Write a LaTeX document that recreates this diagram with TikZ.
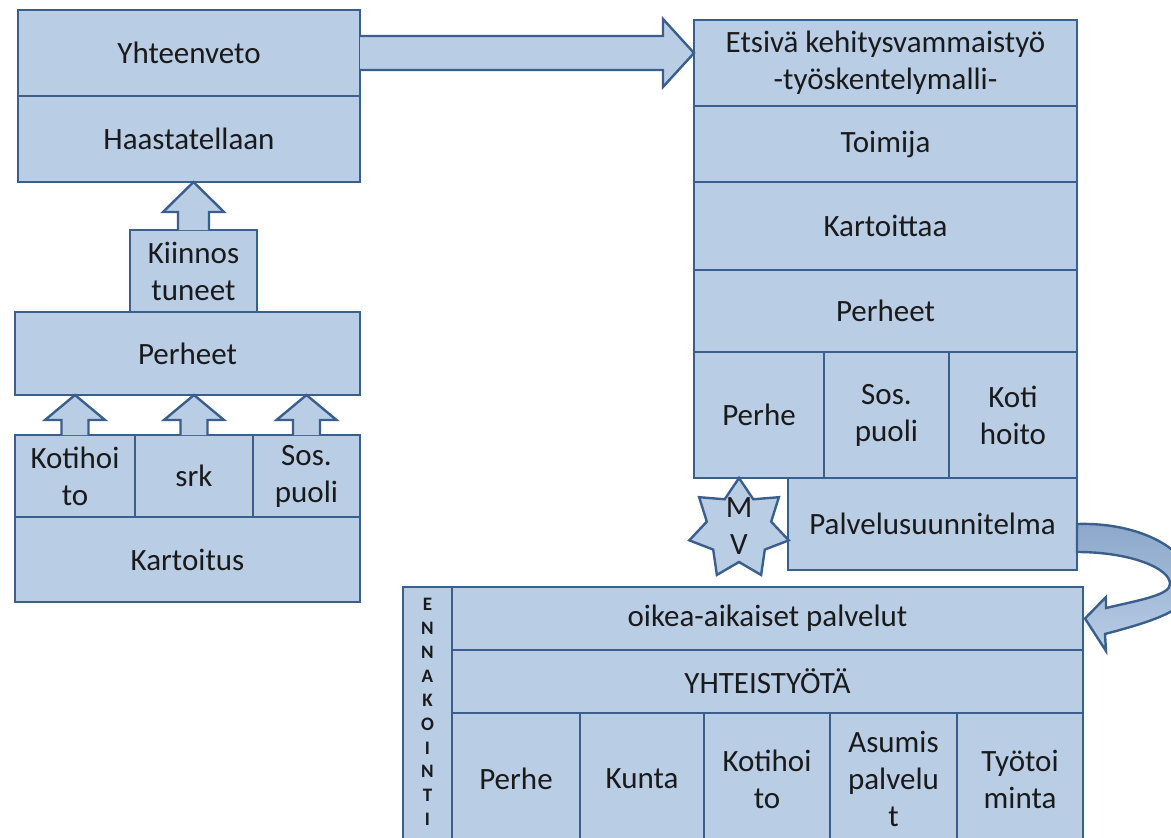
\documentclass[tikz,border=0pt]{standalone}
\usepackage{fontspec}
\setmainfont{Carlito}
\usetikzlibrary{calc}
\definecolor{boxfill}{HTML}{B9CDE5}
\definecolor{boxline}{HTML}{3B5F8C}
\definecolor{txt}{HTML}{1A1A1A}
\definecolor{arrdark}{HTML}{8CA7CA}
\tikzset{
  cell/.style={draw=boxline, fill=boxfill, line width=2.4pt, text=txt, align=center,
    inner sep=0pt, outer sep=0pt, font=\fontsize{31}{37}\selectfont},
  lbl/.style={text=txt, align=center, inner sep=0pt, font=\fontsize{31}{37}\selectfont},
  arrowblk/.style={draw=boxline, fill=boxfill, line width=2.4pt, line join=miter},
  curvarr/.style={draw=boxline, line width=2.4pt, line join=miter, top color=arrdark, bottom color=boxfill}
}
\newcommand\mkcell[6]{%
  \pgfmathsetmacro\mycw{#4-#2}%
  \pgfmathsetmacro\mych{#5-#3}%
  \node[cell, minimum width=\mycw pt, minimum height=\mych pt] (#1) at ({(#2+#4)/2},{(#3+#5)/2}) {#6};}
% up block arrow: from node #1 (north) to node #2 (south); shaft half #3, wing half #4, head length #5
\newcommand\uparr[5]{%
  \coordinate (#1tip) at (#1.north |- #2.south);
  \draw[arrowblk] ($(#1.north)+(-#3,0)$) -- ($(#1tip)+(-#3,#5)$) -- ($(#1tip)+(-#4,#5)$) -- (#1tip)
    -- ($(#1tip)+(#4,#5)$) -- ($(#1tip)+(#3,#5)$) -- ($(#1.north)+(#3,0)$);}
\begin{document}
\begin{tikzpicture}[x=1pt, y=-1pt]
\useasboundingbox (0,0) rectangle (1171,838);
\clip (0,0) rectangle (1171,838);
\fill[white] (0,0) rectangle (1171,838);

% ---- left group
\mkcell{yht}{18}{10}{360}{96}{Yhteenveto}
\mkcell{haas}{18}{96}{360}{182}{Haastatellaan}
\mkcell{kiin}{130}{230}{257}{312}{Kiinnos\\tuneet}
\mkcell{perL}{15}{312}{360}{395}{Perheet}
\mkcell{kotiL}{15}{435}{135}{517}{Kotihoi\\to}
\mkcell{srk}{135}{435}{253}{517}{srk}
\mkcell{sosL}{253}{435}{360}{517}{Sos.\\puoli}
\mkcell{kart}{15}{517}{360}{602}{Kartoitus}

\uparr{kiin}{haas}{15.5}{30.5}{30}
\uparr{kotiL}{perL}{13.5}{30}{25}
\uparr{srk}{perL}{13.5}{30}{25}
\uparr{sosL}{perL}{13.5}{30}{25}

% ---- bottom group
\mkcell{oik}{452}{587}{1083}{650}{oikea-aikaiset palvelut}

% ---- curved arrow
\coordinate (tipC) at ($(oik.east)+(2,0)$);
\coordinate (ca1) at ($(1077,524)+(0,28)$);
\coordinate (apexO) at (1192,585);
\coordinate (apexI) at (1170,584);

% ---- right column
\mkcell{plan}{788}{478}{1077}{570}{Palvelusuunnitelma}
\draw[curvarr] (plan.east) .. controls +(63,-2) and +(0,-35) .. (apexO)
  .. controls +(0,25) and +(45,-12) .. ($(tipC)+(20,15.5)$)
  -- ($(tipC)+(21,32.5)$) -- (tipC) -- ($(tipC)+(21,-21.5)$) -- ($(tipC)+(21,-10.5)$)
  .. controls +(34,-8) and +(0,11) .. (apexI)
  .. controls +(0,-16) and +(53,0) .. (ca1) -- cycle;

\mkcell{ets}{694}{20}{1077}{106}{Etsivä kehitysvammaistyö\\-työskentelymalli-}
\mkcell{toim}{694}{106}{1077}{182}{Toimija}
\mkcell{kartR}{694}{182}{1077}{270}{Kartoittaa}
\mkcell{perR}{694}{270}{1077}{352}{Perheet}
\mkcell{perheR}{694}{352}{824}{478}{Perhe}
\mkcell{sosR}{824}{352}{949}{478}{Sos.\\puoli}
\mkcell{kotiR}{949}{352}{1077}{478}{Koti\\hoito}

% ---- big arrow
\coordinate (tipA) at (ets.west |- yht.east);
\draw[arrowblk] ($(yht.east)+(0,-17)$) -- ($(tipA)+(-31,-17)$) -- ($(tipA)+(-31,-34)$) -- (tipA)
  -- ($(tipA)+(-31,34)$) -- ($(tipA)+(-31,17)$) -- ($(yht.east)+(0,17)$);

% ---- star MV
\coordinate (mvc) at (739,529);
\draw[arrowblk] ($(mvc)+(-90:51)$) foreach \i in {1,...,13} {
  -- ($(mvc)+({-90+\i*360/14}:{ifthenelse(mod(\i,2)==0,51,33)})$) } -- cycle;
\node[lbl] (mvtxt) at (739,526) {M\\V};

% ---- bottom rest
\mkcell{enn}{403}{587}{452}{845}{}
\node[text=txt, align=center, inner sep=0pt, font=\fontsize{19}{23.9}\selectfont\bfseries] (enntxt) at (427.5,712) {E\\N\\N\\A\\K\\O\\I\\N\\T\\I};
\mkcell{yht2}{452}{650}{1083}{713}{YHTEISTYÖTÄ}
\mkcell{b1}{452}{713}{580}{845}{Perhe}
\mkcell{b2}{580}{713}{704}{845}{Kunta}
\mkcell{b3}{704}{713}{830}{845}{Kotihoi\\to}
\mkcell{b4}{830}{713}{957}{845}{Asumis\\palvelu\\t}
\mkcell{b5}{957}{713}{1083}{845}{Työtoi\\minta}
\end{tikzpicture}
\end{document}
